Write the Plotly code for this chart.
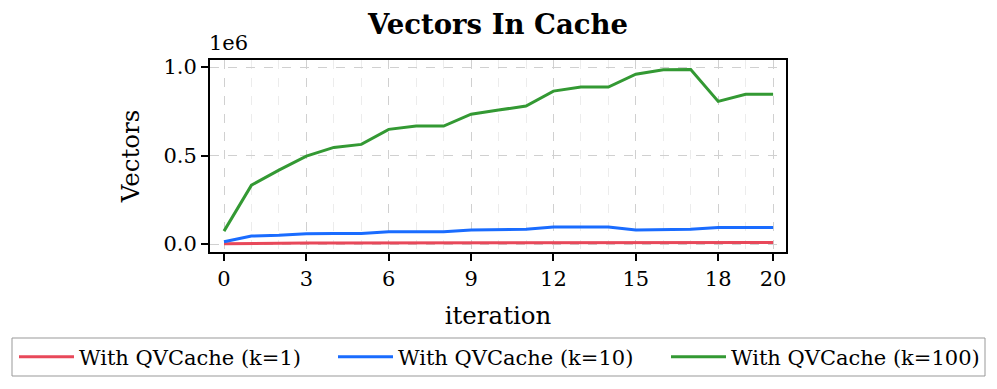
import plotly.graph_objects as go

iterations = list(range(21))
k1 = [1000, 4000, 5000, 6000, 6000, 6000, 7000, 7000, 7000, 8000, 8000,
      8000, 9000, 9000, 9000, 8000, 8000, 8000, 9000, 9000, 9000]
k10 = [13000, 45000, 49000, 58000, 60000, 60000, 70000, 70000, 70000, 79000, 83000,
       83000, 96000, 96000, 96000, 79000, 81000, 83000, 94000, 94000, 94000]
k100 = [73000, 333000, 418000, 497000, 546000, 563000, 648000, 667000, 667000, 734000, 757000,
        780000, 864000, 887000, 887000, 960000, 985000, 986000, 806000, 846000, 847000]
names = ["With QVCache (k=1)", "With QVCache (k=10)", "With QVCache (k=100)"]
colors = ["#e8485a", "#1a6cff", "#339933"]
x_ticks = [0, 3, 6, 9, 12, 15, 18, 20]
y_ticks = [0, 500000, 1000000]
y_ticklabels = ["0.0", "0.5", "1.0"]

FONT = "DejaVu Serif"
# the page body adds an 8px margin, so the figure is 8px smaller than the window
W, H = 989, 381
L, R, T, B = 202, 211, 52, 137
legend_ids = ["legend", "legend2", "legend3"]
legend_left_px = [6, 325, 658]

fig = go.Figure()
for ys, n, c, lg in zip([k1, k10, k100], names, colors, legend_ids):
    fig.add_trace(go.Scatter(x=iterations, y=ys, mode="lines", name=n,
                             line=dict(color=c, width=3), legend=lg))

legend_common = dict(orientation="h", xref="container", yref="container",
                     xanchor="left", yanchor="middle", y=1 - 349 / H,
                     borderwidth=0, bgcolor="rgba(0,0,0,0)",
                     font=dict(family=FONT, size=21), itemwidth=55)
fig.update_layout(
    width=W, height=H,
    margin=dict(l=L, r=R, t=T, b=B, autoexpand=False),
    paper_bgcolor="white", plot_bgcolor="white",
    font=dict(family=FONT, size=21, color="black"),
    title=dict(text="<b>Vectors In Cache</b>", x=0.5, xanchor="center", xref="paper",
               y=1 - 16 / H, yanchor="middle", font=dict(family=FONT, size=27.5)),
    showlegend=True,
    legend=dict(x=legend_left_px[0] / W, **legend_common),
    legend2=dict(x=legend_left_px[1] / W, **legend_common),
    legend3=dict(x=legend_left_px[2] / W, **legend_common),
)
fig.update_xaxes(
    range=[-0.51, 20.47], tickvals=x_ticks, ticks="outside", ticklen=7, tickwidth=2,
    tickcolor="black", showline=True, linecolor="black", linewidth=2, mirror=True,
    showgrid=True, gridcolor="#d0d0d0", griddash="dash", gridwidth=1, zeroline=False,
    tickfont=dict(family=FONT, size=21),
    title=dict(text="iteration", font=dict(family=FONT, size=24.5), standoff=17),
    minor=dict(dtick=1, tick0=0, showgrid=True, gridcolor="#ececec", griddash="dash", ticks=""),
)
fig.update_yaxes(
    range=[-45000, 1040000], tickvals=y_ticks, ticktext=y_ticklabels, ticks="outside",
    ticklen=7, tickwidth=2, tickcolor="black", showline=True, linecolor="black",
    linewidth=2, mirror=True, showgrid=True, gridcolor="#d0d0d0", griddash="dash",
    zeroline=False, tickfont=dict(family=FONT, size=21),
    title=dict(text="Vectors", font=dict(family=FONT, size=24.5), standoff=17),
)
fig.add_annotation(text="1e6", xref="paper", yref="paper", x=0, y=1, xanchor="left",
                   yanchor="bottom", showarrow=False, font=dict(family=FONT, size=21),
                   yshift=3, xshift=-3)
# legend frame (converted from pixel box to paper coordinates)
pw, ph = W - L - R, H - T - B
def px_to_paper_x(px):
    return (px - L) / pw
def px_to_paper_y(py):
    return (H - B - py) / ph
fig.add_shape(type="rect", xref="paper", yref="paper",
              x0=px_to_paper_x(4), x1=px_to_paper_x(977),
              y0=px_to_paper_y(368), y1=px_to_paper_y(330),
              line=dict(color="#999999", width=1), fillcolor="rgba(0,0,0,0)", layer="above")
fig.write_html("out.html")
